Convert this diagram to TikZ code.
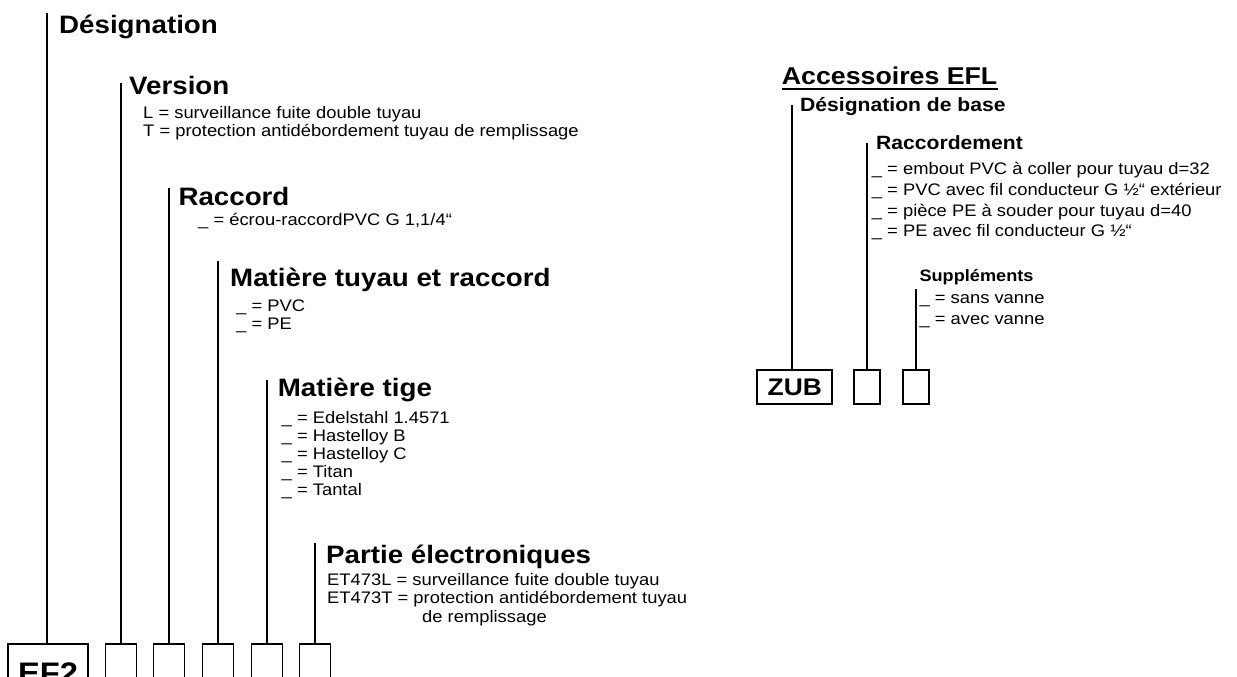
\documentclass[tikz,border=0pt]{standalone}
\usepackage{fontspec}
\setmainfont{Liberation Sans}[FakeStretch=1.1]
\begin{document}
\begin{tikzpicture}[x=1pt,y=-1pt]
\tikzset{
  ln/.style={line width=1.8pt},
  hd/.style={anchor=base west, inner sep=0pt, font=\fontsize{25.2}{28}\selectfont\bfseries},
  subhd/.style={anchor=base west, inner sep=0pt, font=\fontsize{19.2}{21}\selectfont\bfseries},
  smhd/.style={anchor=base west, inner sep=0pt, font=\fontsize{16.5}{18}\selectfont\bfseries},
  tx/.style={anchor=base west, inner sep=0pt, font=\fontsize{16.7}{18}\selectfont},
  cell/.style={draw, line width=1.8pt, anchor=north, inner sep=0pt, minimum width=31pt, minimum height=59pt},
  rcell/.style={draw, line width=1.8pt, anchor=north, inner sep=0pt, minimum width=26pt, minimum height=33.4pt},
}
\useasboundingbox (0,0) rectangle (1237,677);
\clip (0,0) rectangle (1237,677);

% ---------- left: EF2 ----------
\node[hd] (hDes) at (59,33.3) {Désignation};
\coordinate (tDes) at (47,13);

\node[hd] (hVer) at (129,95) {Version};
\coordinate (tVer) at (121,83);
\node[tx] (v1) at (143,118.3) {L = surveillance fuite double tuyau};
\node[tx] (v2) at (143,136) {T = protection antidébordement tuyau de remplissage};

\node[hd] (hRac) at (178.3,205) {Raccord};
\coordinate (tRac) at (169,188);
\node[tx] (r1) at (198,225) {\_ = écrou-raccordPVC G 1,1/4“};

\node[hd] (hMat) at (230,286.7) {Matière tuyau et raccord};
\coordinate (tMat) at (218,260.5);
\node[tx] (m1) at (236,311.7) {\_ = PVC};
\node[tx] (m2) at (236,329.7) {\_ = PE};

\node[hd] (hTig) at (277.7,396.5) {Matière tige};
\coordinate (tTig) at (267,380);
\node[tx] (g1) at (281.5,423) {\_ = Edelstahl 1.4571};
\node[tx] (g2) at (281.5,441.2) {\_ = Hastelloy B};
\node[tx] (g3) at (281.5,459.4) {\_ = Hastelloy C};
\node[tx] (g4) at (281.5,477.6) {\_ = Titan};
\node[tx] (g5) at (281.5,495.8) {\_ = Tantal};

\node[hd] (hEle) at (326,563.5) {Partie électroniques};
\coordinate (tEle) at (315,543);
\node[tx] (e1) at (327,585) {ET473L = surveillance fuite double tuyau};
\node[tx] (e2) at (327,603.5) {ET473T = protection antidébordement tuyau};
\node[tx] (e3) at (422,622) {de remplissage};

\node[cell, minimum width=80pt, font=\fontsize{29.7}{32}\selectfont\bfseries] (bEF) at (48,643) {EF2};
\node[cell] (bVer) at (121,643) {};
\node[cell] (bRac) at (169,643) {};
\node[cell] (bMat) at (218,643) {};
\node[cell] (bTig) at (267,643) {};
\node[cell] (bEle) at (315,643) {};

\draw[ln] (tDes) -- (tDes |- bEF.north);
\draw[ln] (tVer) -- (bVer.north);
\draw[ln] (tRac) -- (bRac.north);
\draw[ln] (tMat) -- (bMat.north);
\draw[ln] (tTig) -- (bTig.north);
\draw[ln] (tEle) -- (bEle.north);

% ---------- right: ZUB ----------
\node[hd, font=\fontsize{24.3}{27}\selectfont\bfseries] (hAcc) at (781.7,84.3) {Accessoires EFL};
\draw[line width=2pt] ([yshift=-5pt]hAcc.base west) -- ([yshift=-5pt]hAcc.base east);

\node[subhd] (hBase) at (800,111.7) {Désignation de base};
\coordinate (tZub) at (791.7,105);

\node[subhd] (hRcd) at (876,149.6) {Raccordement};
\coordinate (tRcd) at (867.3,143);
\node[tx] (c1) at (871.7,174) {\_ = embout PVC à coller pour tuyau d=32};
\node[tx] (c2) at (871.7,195) {\_ = PVC avec fil conducteur G ½“ extérieur};
\node[tx] (c3) at (871.7,216) {\_ = pièce PE à souder pour tuyau d=40};
\node[tx] (c4) at (871.7,236.7) {\_ = PE avec fil conducteur G ½“};

\node[smhd] (hSup) at (919.3,281.7) {Suppléments};
\coordinate (tSup) at (915.7,289.3);
\node[tx] (s1) at (919.3,303.3) {\_ = sans vanne};
\node[tx] (s2) at (919.3,324) {\_ = avec vanne};

\node[rcell, minimum width=75pt, font=\fontsize{24}{26}\selectfont\bfseries] (bZub) at (794.8,369.3) {ZUB};
\node[rcell] (bRcd) at (867.3,369.3) {};
\node[rcell] (bSup) at (915.7,369.3) {};

\draw[ln] (tZub) -- (tZub |- bZub.north);
\draw[ln] (tRcd) -- (bRcd.north);
\draw[ln] (tSup) -- (bSup.north);
\end{tikzpicture}
\end{document}
